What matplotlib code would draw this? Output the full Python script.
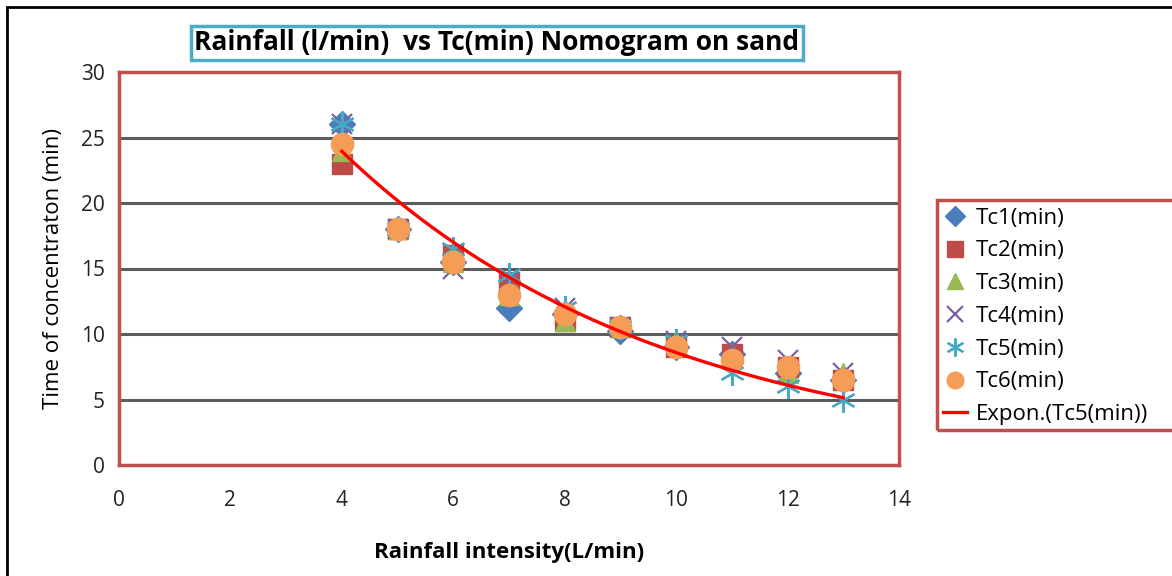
import numpy as np
import matplotlib
matplotlib.use("Agg")
import matplotlib.pyplot as plt
from matplotlib.patches import Rectangle

plt.rcParams['font.family'] = ['Open Sans', 'DejaVu Sans']

x = [4, 5, 6, 7, 8, 9, 10, 11, 12, 13]
tc1 = [26, 18, 15.5, 12, 11.5, 10.2, 9, 8.5, 7, 6.5]
tc2 = [23, 18, 16, 14, 11, 10.5, 9, 8.5, 7.5, 6.5]
tc3 = [24, 18, 15.5, 13, 11, 10.5, 9.5, 8.5, 7, 7]
tc4 = [26, 18, 15, 14, 12, 10.5, 9.5, 9, 8, 7]
tc5 = [26, 18, 16.5, 14.5, 12, 10.5, 9.5, 7, 6, 5]
tc6 = [24.5, 18, 15.5, 13, 11.5, 10.5, 9, 8, 7.5, 6.5]
labels = ['Tc1(min)', 'Tc2(min)', 'Tc3(min)', 'Tc4(min)', 'Tc5(min)', 'Tc6(min)']

W, H = 1172, 576
fig = plt.figure(figsize=(W / 100, H / 100), dpi=100)
ax = fig.add_axes([119 / W, 1 - 465 / H, (899 - 119) / W, (465 - 72) / H])

styles = [
    dict(marker='D', color='#4a7ebb', ms=13, mec='#4a7ebb'),
    dict(marker='s', color='#be4b48', ms=15, mec='#be4b48'),
    dict(marker='^', color='#98b954', ms=15, mec='#98b954'),
    dict(marker='x', color='#7d60a0', ms=15, mew=1.6),
    dict(marker=(6, 2, 0), color='#46aac5', ms=18, mew=1.6),
    dict(marker='o', color='#f59d56', ms=16, mec='#f59d56'),
]
series = [tc1, tc2, tc3, tc4, tc5, tc6]
handles = []
for s, lab, st in zip(series, labels, styles):
    h, = ax.plot(x, s, linestyle='none', label=lab, zorder=3, **st)
    handles.append(h)

# exponential trendline fit of Tc5
xa = np.array(x, dtype=float)
b, a = np.polyfit(xa, np.log(np.array(tc5, dtype=float)), 1)
xf = np.linspace(xa.min(), xa.max(), 200)
h, = ax.plot(xf, np.exp(a) * np.exp(b * xf), color='red', lw=2.4, zorder=4,
             label='Expon.(Tc5(min))')
handles.append(h)

ax.set_xlim(0, 14)
ax.set_ylim(0, 30)
ax.set_xticks(range(0, 15, 2))
ax.set_yticks(range(0, 31, 5))
ax.yaxis.grid(True, color='#333333', lw=2.2, alpha=0.8)
ax.set_axisbelow(True)
ax.tick_params(length=0, labelsize=15, colors='#222222')
ax.tick_params(axis='x', pad=18)
ax.tick_params(axis='y', pad=10)
for sp in ax.spines.values():
    sp.set_color('#c0504d')
    sp.set_linewidth(2.5)
ax.set_xlabel('Rainfall intensity(L/min)', fontsize=16, fontweight='bold', labelpad=22)
ax.set_ylabel('Time of concentraton (min)', fontsize=16, labelpad=12)

small = [10, 11, 11, 12, 13, 12]
leg = fig.legend(handles=handles, loc='upper left', bbox_to_anchor=(937 / W, 1 - 202 / H),
                 frameon=False, fontsize=16, handlelength=1.1, handletextpad=0.4,
                 labelspacing=0.53, borderpad=0.25, borderaxespad=0)
for lh, ms in zip(leg.legend_handles[:6], small):
    lh.set_markersize(ms)

fig.patches.append(Rectangle((937 / W, 1 - 430 / H), 0.4, 230 / H, transform=fig.transFigure,
                             fill=False, ec='#c0504d', lw=2.5))

fig.text(497 / W, 1 - 43 / H, 'Rainfall (l/min)  vs Tc(min) Nomogram on sand', ha='center',
         va='center', fontsize=19, fontweight='bold',
         bbox=dict(boxstyle='square,pad=0.15', fc='white', ec='#4bacc6', lw=2.5))

fig.patches.append(Rectangle((7 / W, -0.2), 1.2, 1.2 - 7 / H, transform=fig.transFigure,
                             fill=False, ec='black', lw=2))

fig.savefig('out.png', dpi=100)
